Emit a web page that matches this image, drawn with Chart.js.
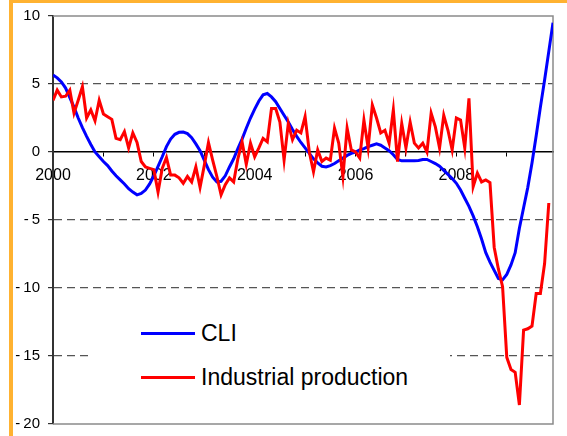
<!DOCTYPE html>
<html>
<head>
<meta charset="utf-8">
<script src="https://cdn.jsdelivr.net/npm/chart.js@4.4.1/dist/chart.umd.min.js"></script>
<style>
  html, body { margin: 0; padding: 0; background: #fff; }
  body { width: 567px; height: 436px; position: relative; overflow: hidden; font-family: "Liberation Sans", Arial, sans-serif; }
  #frame { position: absolute; left: 9px; top: 0; right: 0; bottom: 0; border-left: 4px solid #ffb231; border-top: 3px solid #ffb231; }
  #chart { position: absolute; left: 0; top: 0; }
  #legend { position: absolute; left: 93px; top: 312px; width: 357px; height: 88px; background: #fff; }
  .item { position: absolute; left: 48px; height: 30px; display: flex; align-items: center; font-size: 23px; color: #000; white-space: nowrap; }
  .swatch { width: 54px; height: 3px; margin-right: 6px; }
</style>
</head>
<body>
<div id="frame"></div>
<canvas id="chart" width="567" height="436"></canvas>
<div id="legend"></div>
<script>
// monthly values, Jan 2000 onwards
const startYear = 2000;
const cli = [5.66, 5.45, 5.15, 4.7, 4.0, 3.3, 2.5, 1.8, 1.15, 0.55,
  0, -0.35, -0.7, -1.0, -1.4, -1.75, -2.05, -2.35, -2.7, -2.95,
  -3.15, -3.05, -2.8, -2.35, -1.75, -1.05, -0.35, 0.4, 0.95, 1.3,
  1.45, 1.47, 1.35, 1.05, 0.6, 0.1, -0.6, -1.3, -1.85, -2.2,
  -2.15, -1.75, -1.1, -0.5, 0.25, 0.95, 1.75, 2.5, 3.15, 3.75,
  4.2, 4.3, 4.05, 3.7, 3.2, 2.7, 2.2, 1.65, 1.15, 0.7,
  0.3, -0.1, -0.5, -0.8, -1.05, -1.1, -1.0, -0.85, -0.65, -0.45,
  -0.25, -0.1, 0, 0.15, 0.25, 0.4, 0.5, 0.6, 0.5, 0.3,
  0.1, -0.2, -0.55, -0.65, -0.65, -0.65, -0.65, -0.62, -0.55, -0.55,
  -0.7, -0.85, -1.05, -1.35, -1.65, -1.95, -2.3, -2.8, -3.4, -4.0,
  -4.7, -5.5, -6.4, -7.4, -8.1, -8.7, -9.3, -9.4, -9.0, -8.3,
  -7.4, -5.6, -4.1, -2.6, -0.8, 1.2, 3.3, 5.3, 7.4, 9.5];
const industrial = [3.8, 4.55, 4.05, 4.1, 4.55, 2.85, 3.8, 4.8, 2.5, 3.1,
  2.3, 3.8, 2.8, 2.6, 2.4, 1.0, 0.9, 1.5, 0.3, 1.4,
  0.7, -0.7, -1.1, -1.2, -1.3, -2.95, -1.2, -0.4, -1.7, -1.7,
  -1.9, -2.3, -1.8, -2.2, -1.1, -2.6, -1.0, 0.7, -0.6, -1.8,
  -3.15, -2.4, -1.9, -2.2, -0.5, 0.75, -0.9, 0.65, -0.35, 0.3,
  1.0, 0.75, 3.2, 3.2, 2.2, -0.6, 2.1, 0.9, 1.6, 1.4,
  2.6, 0, -1.45, 0.15, -0.7, -0.45, -0.6, 1.75, 0.65, -1.8,
  1.75, 0.15, 0.0, -0.45, 2.35, 0.3, 3.45, 2.5, 1.4, 1.6,
  0.65, 3.1, -0.7, 2.1, 0.3, 2.2, 0.65, 0.3, 0.65, 0,
  2.85, 1.85, 0.3, 2.7, 1.6, 0.15, 2.5, 2.35, 0.3, 3.95,
  -2.55, -1.55, -2.2, -2.05, -2.25, -7.0, -8.6, -9.9, -15.1, -16.0,
  -16.2, -18.6, -13.1, -13.0, -12.8, -10.4, -10.4, -8.2, -3.75];
const yearLabels = ['2000', '2002', '2004', '2006', '2008'];
const dashedLevels = [5, -5, -10, -15];
const seriesNames = ['CLI', 'Industrial production'];
const seriesColors = ['#0000ff', '#ff0000'];

const toPoints = arr => arr.map((v, i) => ({ x: startYear + i / 12, y: v }));

// grey box on top, right and bottom of the plot
const frameLines = {
  id: 'frameLines',
  beforeDatasetsDraw(chart) {
    const { ctx, chartArea: a } = chart;
    ctx.save();
    ctx.strokeStyle = '#8a8a8a';
    ctx.lineWidth = 1.5;
    ctx.beginPath();
    ctx.moveTo(a.left, a.top);
    ctx.lineTo(a.right, a.top);
    ctx.lineTo(a.right, a.bottom);
    ctx.lineTo(a.left, a.bottom);
    ctx.stroke();
    ctx.restore();
  }
};

new Chart(document.getElementById('chart').getContext('2d'), {
  type: 'line',
  data: {
    datasets: [
      { label: seriesNames[0], data: toPoints(cli), borderColor: seriesColors[0], borderWidth: 3, pointRadius: 0, tension: 0, order: 1 },
      { label: seriesNames[1], data: toPoints(industrial), borderColor: seriesColors[1], borderWidth: 3, pointRadius: 0, tension: 0, order: 0 }
    ]
  },
  options: {
    responsive: false,
    animation: false,
    devicePixelRatio: 1,
    layout: { padding: { left: 0, right: 14, top: 16, bottom: 12 } },
    plugins: { legend: { display: false }, tooltip: { enabled: false } },
    scales: {
      x: {
        type: 'linear',
        position: { y: 0 },
        min: startYear,
        max: startYear + 119 / 12,
        ticks: {
          stepSize: 1,
          includeBounds: false,
          autoSkip: false,
          maxRotation: 0,
          padding: 10,
          color: '#000',
          font: { family: '"Liberation Sans", Arial, sans-serif', size: 16 },
          callback: v => yearLabels.includes(String(v)) ? String(v) : ''
        },
        grid: { drawOnChartArea: false, tickLength: 4, tickColor: '#000', tickWidth: 1 },
        border: { color: '#000', width: 1.5 },
        // axis sits on the zero line, so it should not take room at the bottom
        afterFit: s => { s.height = 0; s.paddingBottom = 0; s.paddingTop = 0; }
      },
      y: {
        min: -20,
        max: 10,
        ticks: {
          stepSize: 5,
          padding: 8,
          color: '#000',
          font: { family: '"Liberation Sans", Arial, sans-serif', size: 15 },
          callback: v => v < 0 ? '-\u2009' + Math.abs(v) : String(v)
        },
        grid: {
          color: ctx => dashedLevels.includes(ctx.tick.value) ? '#555' : 'rgba(0,0,0,0)',
          lineWidth: 1.2,
          tickLength: 5,
          tickColor: '#333'
        },
        border: { color: '#333', width: 2, dash: [8, 5] },
        afterFit: s => { s.width = 53; s.paddingTop = 0; s.paddingBottom = 0; }
      }
    }
  },
  plugins: [frameLines]
});

// legend drawn as html, sitting over the plot
const legend = document.getElementById('legend');
seriesNames.forEach((name, i) => {
  const item = document.createElement('div');
  item.className = 'item';
  item.style.top = (6 + i * 44) + 'px';
  const sw = document.createElement('span');
  sw.className = 'swatch';
  sw.style.background = seriesColors[i];
  item.appendChild(sw);
  item.appendChild(document.createTextNode(name));
  legend.appendChild(item);
});
</script>
</body>
</html>
